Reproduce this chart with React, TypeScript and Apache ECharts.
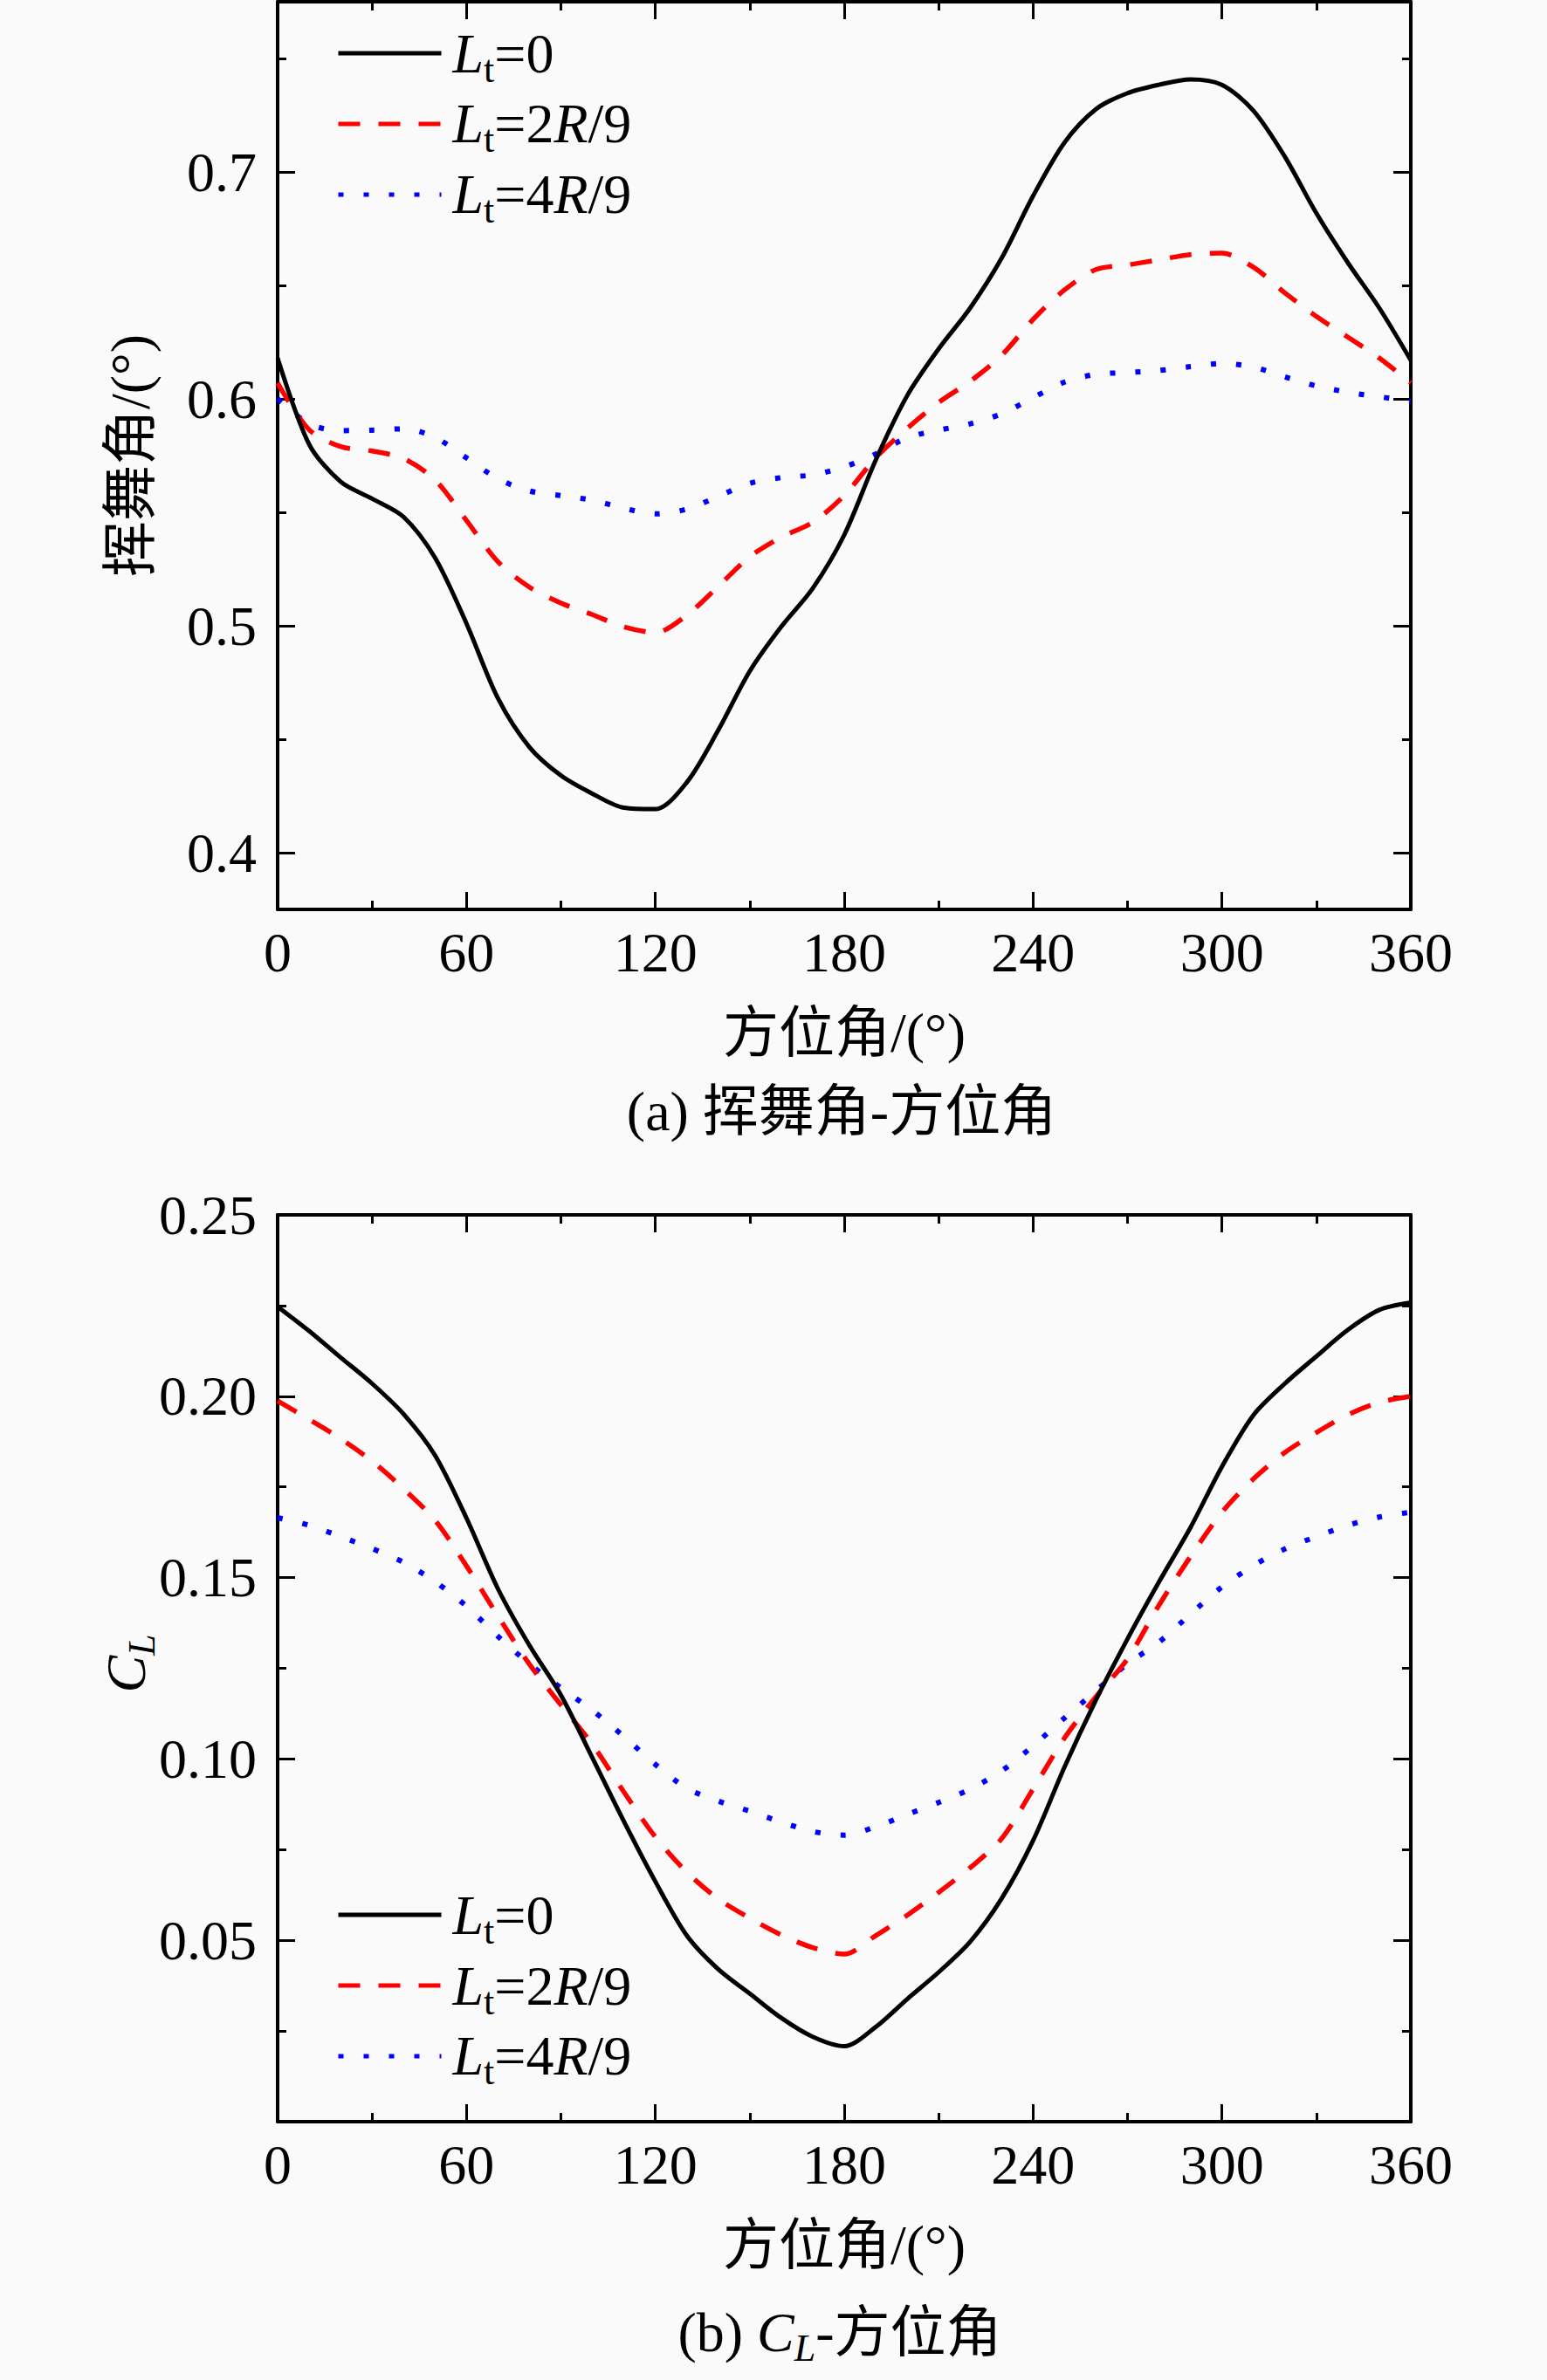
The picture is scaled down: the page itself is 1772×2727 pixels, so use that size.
import React, { useEffect, useRef } from 'react';
import * as echarts from 'echarts';

// ---------- data ----------
const AZIMUTH = [0, 10, 20, 30, 40, 50, 60, 70, 80, 90, 100, 110, 120, 130, 140, 150, 160, 170, 180,
  190, 200, 210, 220, 230, 240, 250, 260, 270, 280, 290, 300, 310, 320, 330, 340, 350, 360];

const SERIES_NAMES = ['Lt=0', 'Lt=2R/9', 'Lt=4R/9'];

// (a) flapping angle (deg)
const FLAP_LT0 = [0.618, 0.580, 0.5635, 0.556, 0.548, 0.530, 0.501, 0.468, 0.4465, 0.434, 0.426, 0.4198, 0.4192,
  0.431, 0.454, 0.480, 0.4996, 0.5165, 0.540, 0.573, 0.6014, 0.622, 0.640, 0.662, 0.6894, 0.713, 0.7277,
  0.7347, 0.7384, 0.7408, 0.7384, 0.727, 0.7067, 0.6818, 0.660, 0.640, 0.617];
const FLAP_2R9 = [0.607, 0.5864, 0.579, 0.577, 0.5737, 0.5643, 0.5464, 0.5282, 0.517, 0.510, 0.5049, 0.4995,
  0.4970, 0.5047, 0.5174, 0.5304, 0.539, 0.5456, 0.5574, 0.574, 0.587, 0.5984, 0.6077, 0.6192, 0.635, 0.648,
  0.657, 0.659, 0.6613, 0.6636, 0.6642, 0.658, 0.6467, 0.6363, 0.6272, 0.618, 0.607];
const FLAP_4R9 = [0.600, 0.589, 0.586, 0.5862, 0.5868, 0.583, 0.574, 0.5648, 0.5594, 0.5574, 0.5553, 0.5518,
  0.5493, 0.5514, 0.557, 0.5628, 0.5653, 0.5665, 0.570, 0.5757, 0.5829, 0.5862, 0.589, 0.5934, 0.6005, 0.6074,
  0.6108, 0.6116, 0.6125, 0.6142, 0.6156, 0.614, 0.6097, 0.6057, 0.6029, 0.6009, 0.599];

// (b) lift coefficient C_L
const CL_LT0 = [0.2247, 0.218, 0.2107, 0.2035, 0.1951, 0.1837, 0.1664, 0.1469, 0.1313, 0.1176, 0.1003, 0.0828,
  0.0662, 0.0513, 0.042, 0.0353, 0.0286, 0.0234, 0.0208, 0.0261, 0.0338, 0.0412, 0.0496, 0.0615, 0.0775, 0.0978,
  0.1163, 0.1331, 0.1488, 0.1638, 0.1806, 0.1948, 0.2035, 0.211, 0.2183, 0.2238, 0.2258];
const CL_2R9 = [0.1987, 0.1936, 0.1883, 0.1821, 0.1745, 0.1658, 0.1532, 0.1394, 0.1261, 0.1149, 0.104, 0.0909,
  0.0785, 0.0688, 0.0614, 0.0561, 0.0515, 0.048, 0.0462, 0.0513, 0.0569, 0.0632, 0.07, 0.078, 0.0917, 0.1058,
  0.1172, 0.1276, 0.1424, 0.1558, 0.168, 0.1772, 0.1845, 0.19, 0.1949, 0.1983, 0.2];
const CL_4R9 = [0.1665, 0.1644, 0.1613, 0.158, 0.1542, 0.1489, 0.1421, 0.1338, 0.1262, 0.1196, 0.1134, 0.1062,
  0.0985, 0.0919, 0.0884, 0.0856, 0.0826, 0.08, 0.079, 0.0813, 0.0847, 0.088, 0.0917, 0.0967, 0.1036, 0.1113,
  0.1188, 0.1262, 0.1322, 0.1399, 0.1474, 0.1533, 0.1579, 0.1613, 0.1644, 0.1667, 0.168];

// axis ranges / ticks
const X_MIN = 0, X_MAX = 360, X_INTERVAL = 60;
const FLAP_MIN = 0.375, FLAP_MAX = 0.775;
const CL_MIN = 0, CL_MAX = 0.25, CL_INTERVAL = 0.05;

// texts
const X_NAME = '方位角/(°)';
const FLAP_Y_NAME = '挥舞角/(°)';
const CAPTION_A = '(a) 挥舞角-方位角';

// ---------- styles ----------
const FONT = '"Liberation Serif", "Times New Roman", "Noto Sans CJK SC", serif';
const BLACK = '#000000';
const FS = 64;

const LINE_STYLES = [
  { color: '#000000', width: 5, type: 'solid' },
  { color: '#ff0000', width: 5.5, type: [25, 21], cap: 'butt' },
  { color: '#0000ff', width: 6, type: [6, 23], cap: 'butt' },
];

const LEGEND_TEXT: Record<string, string> = {
  'Lt=0': '{L|L}{s|t}{n|=0}',
  'Lt=2R/9': '{L|L}{s|t}{n|=2}{i|R}{n|/9}',
  'Lt=4R/9': '{L|L}{s|t}{n|=4}{i|R}{n|/9}',
};

const RICH = {
  L: { fontFamily: FONT, fontSize: FS, fontStyle: 'italic', lineHeight: 66, color: BLACK, padding: [0, 0, 0, 8] },
  i: { fontFamily: FONT, fontSize: FS, fontStyle: 'italic', lineHeight: 66, color: BLACK },
  n: { fontFamily: FONT, fontSize: FS, lineHeight: 66, color: BLACK },
  s: { fontFamily: FONT, fontSize: 44, lineHeight: 40, padding: [36, 0, 0, 0], color: BLACK },
};

const G0 = { left: 318, top: 2, width: 1298, height: 1040 };
const G1 = { left: 318, top: 1392, width: 1298, height: 1039 };

function xAxisDef(gridIndex: number, position: 'top' | 'bottom') {
  return {
    type: 'value', gridIndex, position, min: X_MIN, max: X_MAX, interval: X_INTERVAL,
    axisLine: { show: true, onZero: false, lineStyle: { color: BLACK, width: 4 } },
    axisTick: { show: true, inside: true, length: 20, lineStyle: { color: BLACK, width: 3 } },
    minorTick: { show: true, splitNumber: 2, length: 10, lineStyle: { color: BLACK, width: 3 } },
    axisLabel: {
      show: position === 'bottom', margin: 17, fontFamily: FONT, fontSize: FS, color: BLACK,
    },
    splitLine: { show: false },
    minorSplitLine: { show: false },
  };
}

function flapYAxis(position: 'left' | 'right') {
  return {
    type: 'value', gridIndex: 0, position, min: FLAP_MIN, max: FLAP_MAX, splitNumber: 4,
    axisLine: { show: true, onZero: false, lineStyle: { color: BLACK, width: 4 } },
    axisTick: { show: true, inside: true, length: 20, lineStyle: { color: BLACK, width: 3 } },
    minorTick: { show: true, splitNumber: 2, length: 10, lineStyle: { color: BLACK, width: 3 } },
    axisLabel: {
      show: position === 'left', margin: 24, fontFamily: FONT, fontSize: FS, color: BLACK,
      showMinLabel: false, showMaxLabel: false,
      formatter: (v: number) => {
        const r = Math.round(v * 10);
        return Math.abs(v * 10 - r) < 1e-6 ? (r / 10).toFixed(1) : '';
      },
    },
    splitLine: { show: false },
    minorSplitLine: { show: false },
  };
}

function clYAxis(position: 'left' | 'right') {
  return {
    type: 'value', gridIndex: 1, position, min: CL_MIN, max: CL_MAX, interval: CL_INTERVAL,
    axisLine: { show: true, onZero: false, lineStyle: { color: BLACK, width: 4 } },
    axisTick: { show: true, inside: true, length: 20, lineStyle: { color: BLACK, width: 3 } },
    minorTick: { show: true, splitNumber: 2, length: 10, lineStyle: { color: BLACK, width: 3 } },
    axisLabel: {
      show: position === 'left', margin: 24, fontFamily: FONT, fontSize: FS, color: BLACK,
      showMinLabel: false,
      formatter: (v: number) => v.toFixed(2),
    },
    splitLine: { show: false },
    minorSplitLine: { show: false },
  };
}

function lineSeries(name: string, values: number[], xi: number, yi: number, idx: number) {
  return {
    type: 'line', name, xAxisIndex: xi, yAxisIndex: yi,
    data: AZIMUTH.map((a, i) => [a, values[i]]),
    symbol: 'none', symbolSize: 0, showSymbol: false, smooth: 0.3,
    lineStyle: LINE_STYLES[idx],
    itemStyle: { color: LINE_STYLES[idx].color },
    z: 5 - idx,
  };
}

function legendDef(top: number, itemGap: number) {
  return {
    data: SERIES_NAMES, orient: 'vertical', left: 385, top, padding: 0,
    itemWidth: 118, itemHeight: 20, itemGap, selectedMode: false,
    lineStyle: { width: 5 },
    itemStyle: { opacity: 0 },
    formatter: (n: string) => LEGEND_TEXT[n],
    textStyle: { fontFamily: FONT, fontSize: FS, color: BLACK, rich: RICH },
  };
}

function txt(x: number, y: number, text: string, rotation = 0, rich?: any) {
  return {
    type: 'text', x, y, rotation,
    style: {
      text, fontFamily: FONT, fontSize: FS, fill: BLACK, align: 'center', verticalAlign: 'middle',
      ...(rich ? { rich } : {}),
    },
  };
}

const CAP_RICH = {
  n: { fontFamily: FONT, fontSize: FS, color: BLACK, lineHeight: 66 },
  i: { fontFamily: FONT, fontSize: FS, fontStyle: 'italic', color: BLACK, lineHeight: 66 },
  s: { fontFamily: FONT, fontSize: 44, fontStyle: 'italic', color: BLACK, lineHeight: 40, padding: [36, 0, 0, 0] },
};

export default function App() {
  const ref = useRef<HTMLDivElement>(null);
  useEffect(() => {
    document.body.style.margin = '0';
    if (!ref.current) return;
    const chart = echarts.init(ref.current, null, { renderer: 'svg' });
    chart.setOption({
      animation: false,
      backgroundColor: '#fafafa',
      grid: [G0, G1],
      xAxis: [xAxisDef(0, 'bottom'), xAxisDef(0, 'top'), xAxisDef(1, 'bottom'), xAxisDef(1, 'top')],
      yAxis: [flapYAxis('left'), flapYAxis('right'), clYAxis('left'), clYAxis('right')],
      legend: [legendDef(21, 1), legendDef(2154, 1)],
      series: [
        lineSeries(SERIES_NAMES[0], FLAP_LT0, 0, 0, 0),
        lineSeries(SERIES_NAMES[1], FLAP_2R9, 0, 0, 1),
        lineSeries(SERIES_NAMES[2], FLAP_4R9, 0, 0, 2),
        lineSeries(SERIES_NAMES[0], CL_LT0, 2, 2, 0),
        lineSeries(SERIES_NAMES[1], CL_2R9, 2, 2, 1),
        lineSeries(SERIES_NAMES[2], CL_4R9, 2, 2, 2),
      ],
      graphic: [
        txt(149, 522, FLAP_Y_NAME, Math.PI / 2),
        txt(967, 1183, X_NAME),
        txt(964, 1273, CAPTION_A),
        txt(144, 1906, '{i|C}{s|L}', Math.PI / 2, CAP_RICH),
        txt(967, 2572, X_NAME),
        txt(962, 2672, '{n|(b) }{i|C}{s|L}{n|-方位角}', 0, CAP_RICH),
      ],
    });
    return () => chart.dispose();
  }, []);
  return <div ref={ref} style={{ width: 1772, height: 2727, background: '#fafafa' }} />;
}
